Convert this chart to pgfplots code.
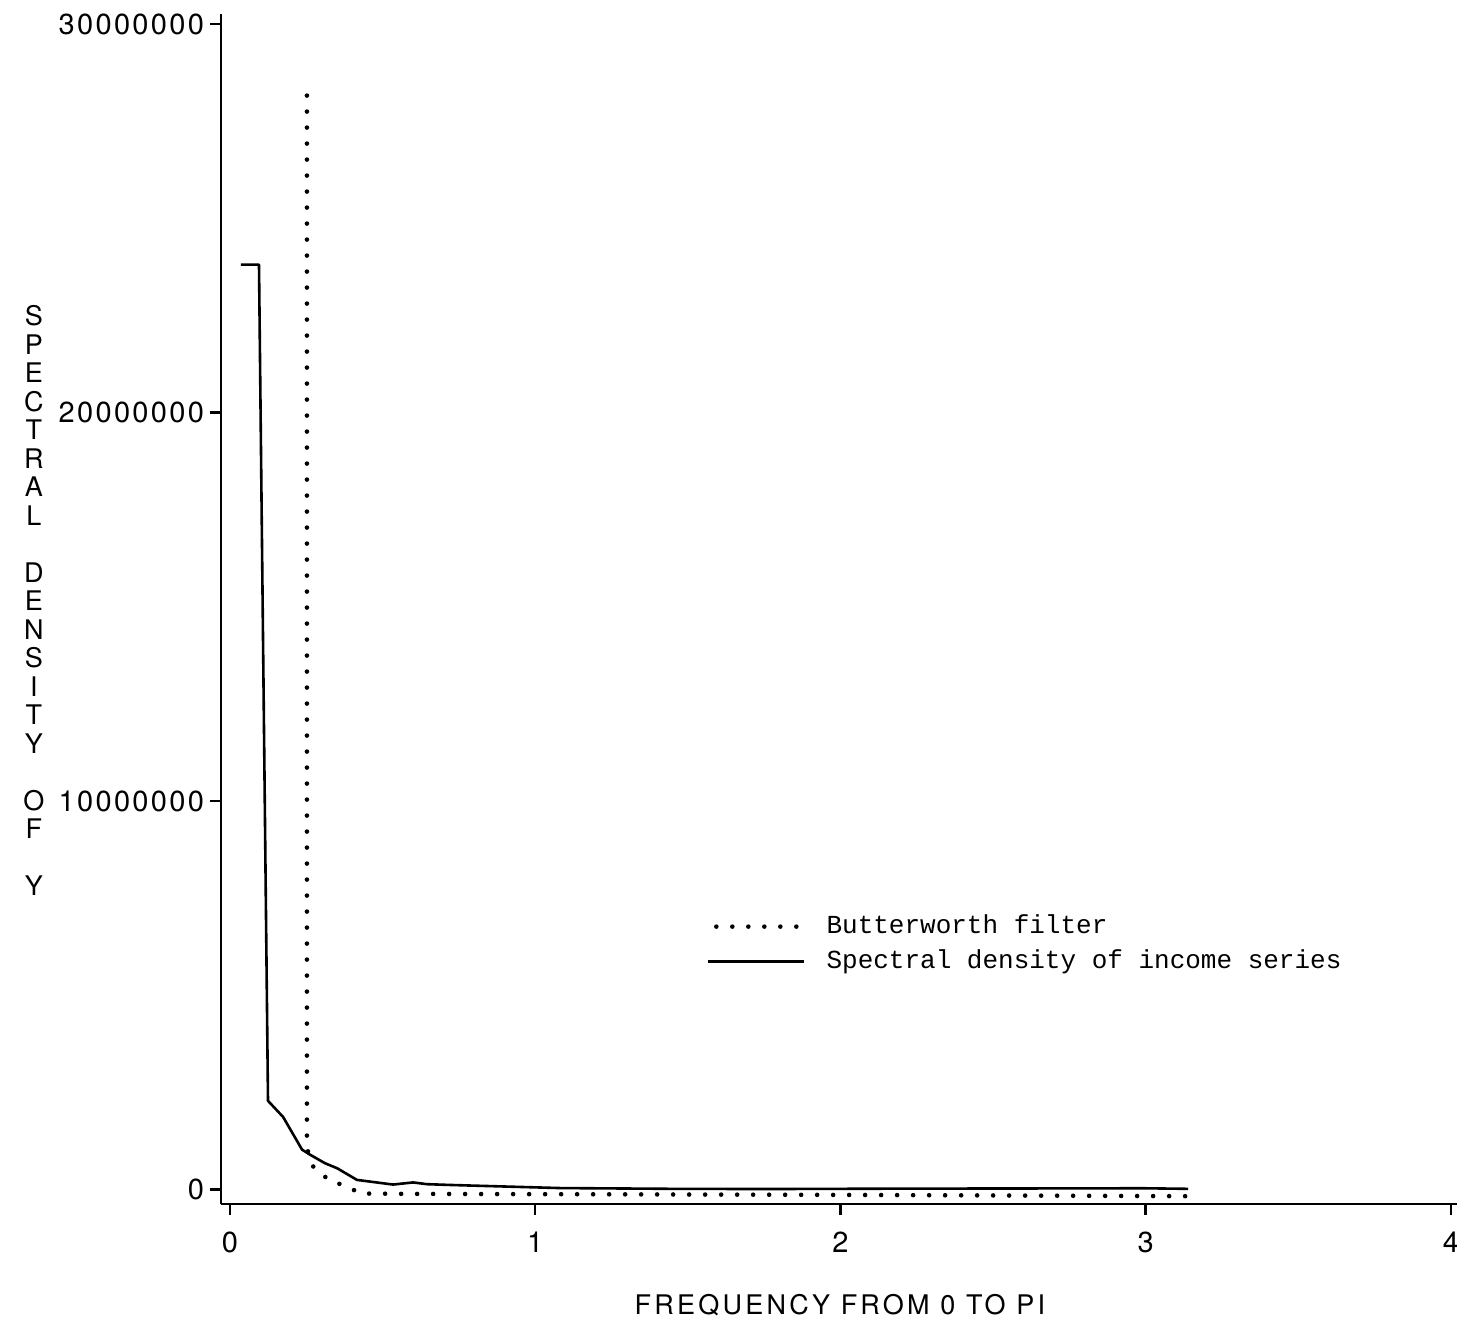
\documentclass[border=0pt]{standalone}
\usepackage{fontspec}
\setmainfont{TeX Gyre Heros}
\newfontfamily\tickfont[LetterSpace=8]{TeX Gyre Heros}
\newfontfamily\labfont[LetterSpace=12]{TeX Gyre Heros}
\newfontfamily\ylabfont[LetterSpace=0]{TeX Gyre Heros}
\newfontfamily\legfont{Liberation Mono}
\usepackage{graphicx}
\usepackage{pgfplots}
\pgfplotsset{compat=1.18}

\begin{document}
\begin{tikzpicture}
\begin{axis}[
  at={(0,0)}, anchor=south west,
  scale only axis, width=618pt, height=595pt,
  xmin=-0.0295, xmax=4.020,
  ymin=-370000, ymax=30260000,
  axis x line=bottom, axis y line=left,
  axis line style={-, line width=1.2pt, black},
  tick align=outside,
  major tick length=5.5pt,
  tick style={line width=1.2pt, black},
  xtick={0,1,2,3,4},
  xticklabels={0,1,2,3,4},
  ytick={0,10000000,20000000,30000000},
  yticklabels={0,10000000,20000000,30000000},
  scaled y ticks=false,
  ticklabel style={font=\fontsize{14.5}{16}\selectfont\tickfont},
  xticklabel style={yshift=-5pt},
  yticklabel style={xshift=0.5pt},
  /pgf/number format/assume math mode=true,
  xlabel={FREQUENCY FROM 0 TO PI},
  every axis x label/.style={font=\fontsize{13.5}{15}\selectfont\labfont, at={(axis description cs:0.5008,-0.0849)}, anchor=center},
  ylabel={S\\P\\E\\C\\T\\R\\A\\L\\~\\D\\E\\N\\S\\I\\T\\Y\\~\\O\\F\\~\\Y},
  every axis y label/.style={font=\fontsize{13.5}{14.25}\selectfont\ylabfont, align=center, at={(axis description cs:-0.1513,0.5071)}, anchor=center},
  legend style={draw=none, fill=none, inner sep=0pt, outer sep=0pt,
    at={(axis description cs:0.3932,0.2440)}, anchor=north west,
    font=\fontsize{13}{15}\selectfont\legfont,
    nodes={inner sep=0pt, text height=10pt, text depth=3pt},
    row sep=4.5pt, column sep=10pt, cells={anchor=west}},
  legend cell align=left,
  legend image code/.code={\draw[#1] (0pt,0pt) -- (48pt,0pt);},
]
\addplot[black, line width=2.3pt, line cap=round, dash pattern=on 0pt off 8pt,
  legend image code/.code={\draw[##1] (4pt,0pt) -- (48pt,0pt);}] coordinates {
  (0.252,28160000) (0.252,1060000) (0.273,590000) (0.328,220000)
  (0.383,90000) (0.426,-100000) (0.584,-110000) (1.200,-120000)
  (2.156,-140000) (3.152,-170000)
};
\addlegendentry{Butterworth filter}
\addplot[black, line width=1.3pt, line join=round] coordinates {
  (0.036,23810000) (0.095,23810000) (0.1245,2285000) (0.174,1870000)
  (0.236,1030000) (0.262,900000) (0.311,680000) (0.351,550000)
  (0.416,250000) (0.534,130000) (0.600,185000) (0.645,140000)
  (0.721,120000) (0.809,100000) (1.081,40000) (1.452,20000)
  (1.760,15000) (2.196,25000) (2.644,30000) (2.991,35000) (3.139,20000)
};
\addlegendentry{Spectral density of income series}
\end{axis}
\pgfresetboundingbox
\path[use as bounding box] (-110.5pt,-61pt) rectangle (618pt,602pt);
\end{tikzpicture}
\end{document}
